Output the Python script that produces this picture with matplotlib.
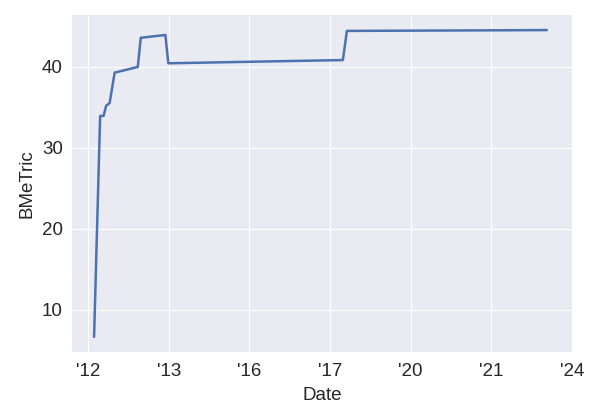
import matplotlib
matplotlib.use("Agg")
import matplotlib.pyplot as plt

# x in tick-slot units (0 = '12, 1 = '13, ...)
dates = [0.074, 0.149, 0.192, 0.223, 0.267, 0.329, 0.372, 0.616, 0.653,
         0.958, 0.995, 2.01, 3.16, 3.21, 5.69]
bmetric = [6.67, 33.95, 33.95, 35.2, 35.55, 39.3, 39.4, 40.0, 43.6,
           43.95, 40.45, 40.64, 40.85, 44.45, 44.55]
tick_labels = ["'12", "'13", "'16", "'17", "'20", "'21", "'24"]

plt.style.use("seaborn-v0_8-darkgrid")
plt.rcParams["font.family"] = ["Liberation Sans", "DejaVu Sans"]

fig = plt.figure(figsize=(6, 4.2), dpi=100)
ax = fig.add_axes([0.12, 0.162, 0.833, 0.802])

ax.plot(dates, bmetric, color="#4C72B0", linewidth=1.8)

ax.set_xticks(range(len(tick_labels)))
ax.set_xticklabels(tick_labels)
ax.set_xlim(-0.2, 6.0)
ax.set_yticks([10, 20, 30, 40])
ax.set_ylim(4.8, 46.4)
ax.tick_params(axis="x", labelsize=13.5, pad=8)
ax.tick_params(axis="y", labelsize=13.5, pad=6.5)
ax.set_xlabel("Date", fontsize=13.5, labelpad=5)
ax.set_ylabel("BMeTric", fontsize=13.5, labelpad=5)

fig.savefig("out.png", dpi=100)
